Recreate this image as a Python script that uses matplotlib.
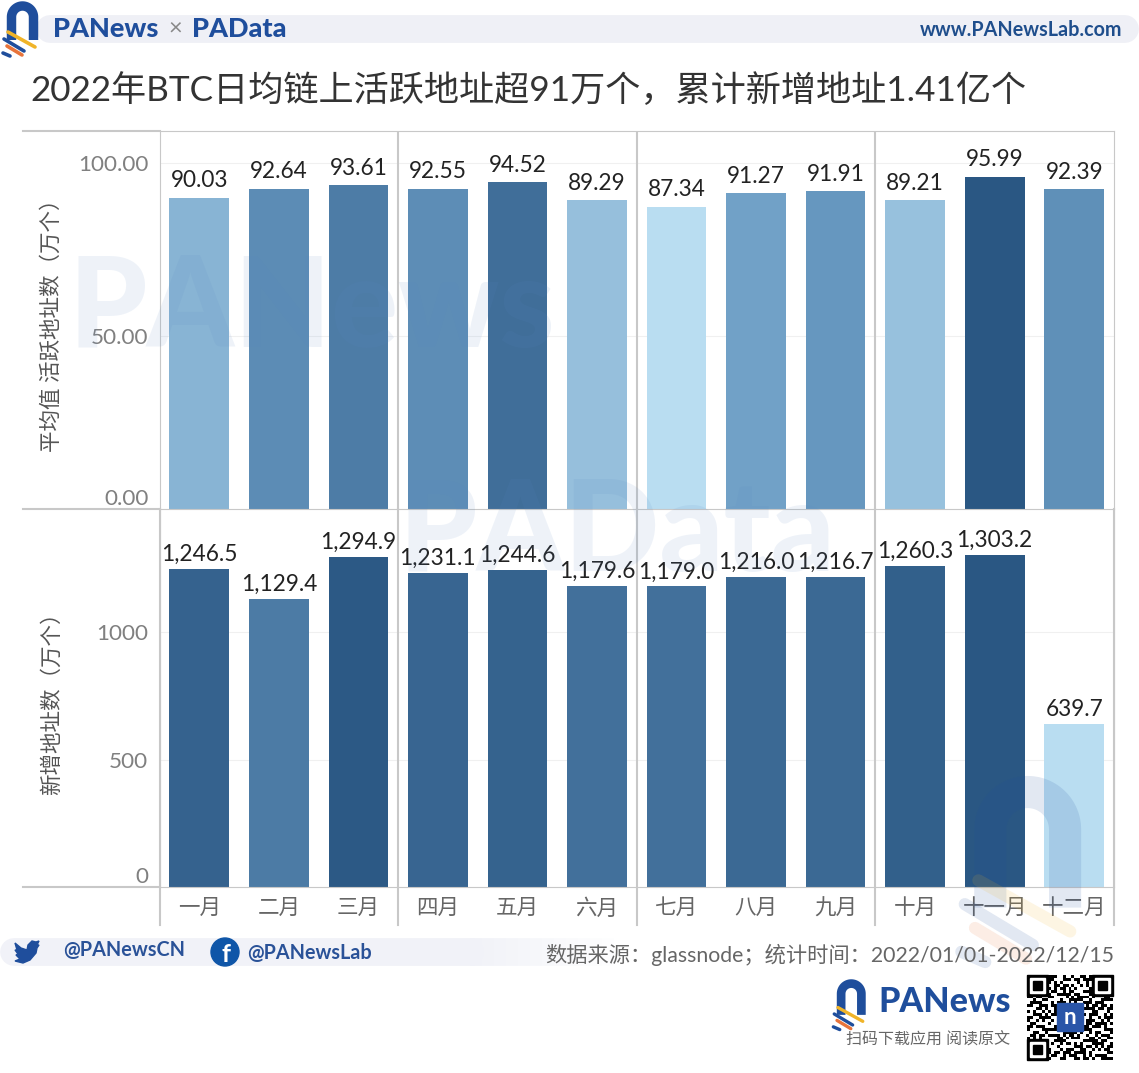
import matplotlib.pyplot as plt
from matplotlib.colors import LinearSegmentedColormap
import math

months = ['一月', '二月', '三月', '四月', '五月', '六月', '七月', '八月', '九月', '十月', '十一月', '十二月']
active = [90.03, 92.64, 93.61, 92.55, 94.52, 89.29, 87.34, 91.27, 91.91, 89.21, 95.99, 92.39]
new_addr = [1246.5, 1129.4, 1294.9, 1231.1, 1244.6, 1179.6, 1179.0, 1216.0, 1216.7, 1260.3, 1303.2, 639.7]
active_ticks = [0, 50, 100]
new_ticks = [0, 500, 1000]

# made up pattern for the qr corner
qr_rows = ['1A6C93E5', '0F3B71C8', '15D20AE7', '1C94B63D', '07E15A92', '12B8D346', '19637CA1', '0C5EA19B',
           '1E27C864', '03B95D1E', '16D04F73', '1B7A2E58', '08C3B6A5', '14E9175C', '1D2684F3', '0A71FD29',
           '17B45C86', '05DE923B', '1C3867E1', '11A5F04C', '0E92D7B6', '1963AC15', '06F81E7A', '13C5692D',
           '1AB7043E', '0D4CE891', '182F76B5', '07A9D34C', '1E5B18A6']

plt.rcParams['font.family'] = ['Lato', 'Noto Sans CJK SC', 'DejaVu Sans']

blues = LinearSegmentedColormap.from_list('blues', ['#b9ddf1', '#6a9bc3', '#2a5783'])
grey = '#c8c8c8'
x = range(len(months))

plt.figure(figsize=(11.39, 10.73), dpi=100)

# top panel
plt.axes([159.5 / 1139, 1 - 509 / 1073, 954.5 / 1139, 378 / 1073])
colors = [blues((v - min(active)) / (max(active) - min(active))) for v in active]
plt.bar(x, active, width=0.75, align='center', color=colors, zorder=2)
for i in x:
    plt.text(i, active[i] + 1.9, '%.2f' % active[i], ha='center', va='bottom', fontsize=16.3, color='#222222')
plt.xlim(-0.5, 11.5)
plt.ylim(0, 109.3)
plt.xticks([])
plt.yticks(active_ticks, ['%.2f' % t for t in active_ticks], fontsize=16.2, color='#808080')
plt.gca().get_yticklabels()[0].set_va('bottom')  # zero sits above the rule
plt.tick_params(length=0, pad=8)
plt.grid(axis='y', color='#f0f0f0', zorder=0)
plt.ylabel('平均值 活跃地址数（万个）', fontsize=15.5, color='#555555', labelpad=12)
for b in [2.5, 5.5, 8.5]:
    plt.axvline(b, color=grey, lw=1.5, zorder=3)
for s in ['top', 'right', 'left']:
    plt.gca().spines[s].set_color(grey)
plt.gca().spines['bottom'].set_visible(False)

# bottom panel
plt.axes([159.5 / 1139, 1 - 887 / 1073, 954.5 / 1139, 378 / 1073])
colors = [blues((v - min(new_addr)) / (max(new_addr) - min(new_addr))) for v in new_addr]
plt.bar(x, new_addr, width=0.75, align='center', color=colors, zorder=2)
for i in x:
    plt.text(i, new_addr[i] + 16, format(new_addr[i], ',.1f'), ha='center', va='bottom', fontsize=16.3, color='#222222')
plt.xlim(-0.5, 11.5)
plt.ylim(0, 1483)
plt.xticks(x, months, fontsize=15.5, color='#666666')
plt.yticks(new_ticks, new_ticks, fontsize=16.2, color='#808080')
plt.gca().get_yticklabels()[0].set_va('bottom')
plt.tick_params(length=0, pad=8)
plt.tick_params(axis='x', pad=8)
plt.grid(axis='y', color='#f0f0f0', zorder=0)
plt.ylabel('新增地址数（万个）', fontsize=15.5, color='#555555', labelpad=25)
for b in [-0.5, 2.5, 5.5, 8.5, 11.5]:
    plt.axvline(b, ymin=-0.1, color=grey, lw=1.5, zorder=3, clip_on=False)
for s in ['top', 'right', 'left', 'bottom']:
    plt.gca().spines[s].set_color(grey)

# everything else goes on a sheet in pixels
plt.axes([0, 0, 1, 1])
plt.axis('off')
plt.gca().patch.set_alpha(0)

# bands
plt.plot([50, 1125], [28.5, 28.5], color='#eff0f6', lw=20, solid_capstyle='round', zorder=0)
for k in range(12):
    plt.plot([470 + k * 12, 482 + k * 12], [952, 952], color='#f1f2f8', lw=20, alpha=1 - k / 12, solid_capstyle='butt', zorder=0)
plt.plot([14, 470], [952, 952], color='#f1f2f8', lw=20, solid_capstyle='round', zorder=0)

# long rules on the left
for y in [131, 509, 887]:
    plt.plot([23, 160], [y, y], color=grey, lw=1.5)

# logos: left, top, size, alpha
for lx, ly, size, a in [(7, 1, 1.0, 1), (837, 979, 0.92, 1), (975, 775, 3.4, 0.13)]:
    t = [math.pi * k / 30 for k in range(31)]
    arch_x = [lx + size * (15.5 - 11 * math.cos(k)) for k in t]
    arch_y = [ly + size * (16 - 11 * math.sin(k)) for k in t]
    plt.plot([arch_x[0]] + arch_x + [arch_x[-1]], [ly + size * 39] + arch_y + [ly + size * 39],
             color='#1f4e9c', lw=6.8 * size, alpha=a, solid_capstyle='butt')
    plt.plot([lx + size * 1, lx + size * 28], [ly + size * 31, ly + size * 46], color='#f0b429', lw=2.6 * size, alpha=a, solid_capstyle='round')
    plt.plot([lx - size * 3, lx + size * 17], [ly + size * 38, ly + size * 50], color='#1f4e9c', lw=2.6 * size, alpha=a, solid_capstyle='round')
    plt.plot([lx + size * 0, lx + size * 15], [ly + size * 45, ly + size * 54], color='#e8743b', lw=2.6 * size, alpha=a, solid_capstyle='round')
    plt.plot([lx - size * 4, lx + size * 3], [ly + size * 52, ly + size * 55], color='#1f4e9c', lw=2.6 * size, alpha=a, solid_capstyle='round')

# header and title
plt.text(53, 29, 'PANews', fontsize=19.5, weight='black', color='#1f4e9c', va='center')
plt.text(175, 29, '×', fontsize=17, color='#888888', va='center', ha='center')
plt.text(192, 29, 'PAData', fontsize=19.5, weight='black', color='#1f4e9c', va='center')
plt.text(1122, 30, 'www.PANewsLab.com', fontsize=14.2, weight='bold', color='#1f4e8c', va='center', ha='right')
plt.text(30, 90, '2022年BTC日均链上活跃地址超91万个，累计新增地址1.41亿个', fontsize=25.3, color='#333333', va='center')

# watermarks
plt.text(68, 310, 'PANews', fontsize=90, weight='black', color='#5b86c4', alpha=0.1, va='center')
plt.text(398, 535, 'PAData', fontsize=90, weight='black', color='#5b86c4', alpha=0.1, va='center')

# footer
bird_x = [15, 21, 27, 28, 32, 36, 39, 37, 39, 37, 36, 30, 23, 15, 20, 16, 18, 15, 17]
bird_y = [943, 948, 950, 945, 941, 942, 941, 945, 945, 948, 953, 960, 963, 961, 959, 955, 954, 950, 950]
plt.fill(bird_x, bird_y, color='#1f4e9c')
plt.text(63, 950, '@PANewsCN', fontsize=14.3, weight='bold', color='#2a5298', va='center')
plt.gca().add_patch(plt.Circle((225, 952), 14, color='#0f56a8'))
plt.text(226, 954, 'f', fontsize=18, weight='bold', color='white', va='center', ha='center')
plt.text(247, 953, '@PANewsLab', fontsize=14.2, weight='bold', color='#2a5298', va='center')
plt.text(1114, 955, '数据来源：glassnode；统计时间：2022/01/01-2022/12/15', fontsize=15.3, color='#666666', va='center', ha='right')
plt.text(878, 1002, 'PANews', fontsize=24.5, weight='black', color='#1f4e9c', va='center')
plt.text(1010, 1040, '扫码下载应用 阅读原文', fontsize=11.5, color='#666666', va='center', ha='right')

# qr corner
qr = [[(int(r, 16) >> j) & 1 for j in range(29)] for r in qr_rows]
plt.imshow(qr, cmap='gray_r', extent=(1027, 1113, 1060, 975), aspect='auto', interpolation='nearest')
for qx, qy in [(1027, 975), (1092, 975), (1027, 1039)]:
    plt.gca().add_patch(plt.Rectangle((qx, qy), 21, 21, color='black'))
    plt.gca().add_patch(plt.Rectangle((qx + 3, qy + 3), 15, 15, color='white'))
    plt.gca().add_patch(plt.Rectangle((qx + 6, qy + 6), 9, 9, color='black'))
plt.gca().add_patch(plt.Rectangle((1057, 1003), 26, 28, color='#2a55a8'))
plt.text(1070, 1017, 'n', fontsize=16, weight='bold', color='white', va='center', ha='center')

plt.xlim(0, 1139)
plt.ylim(1073, 0)

plt.savefig('out.png', dpi=100)
